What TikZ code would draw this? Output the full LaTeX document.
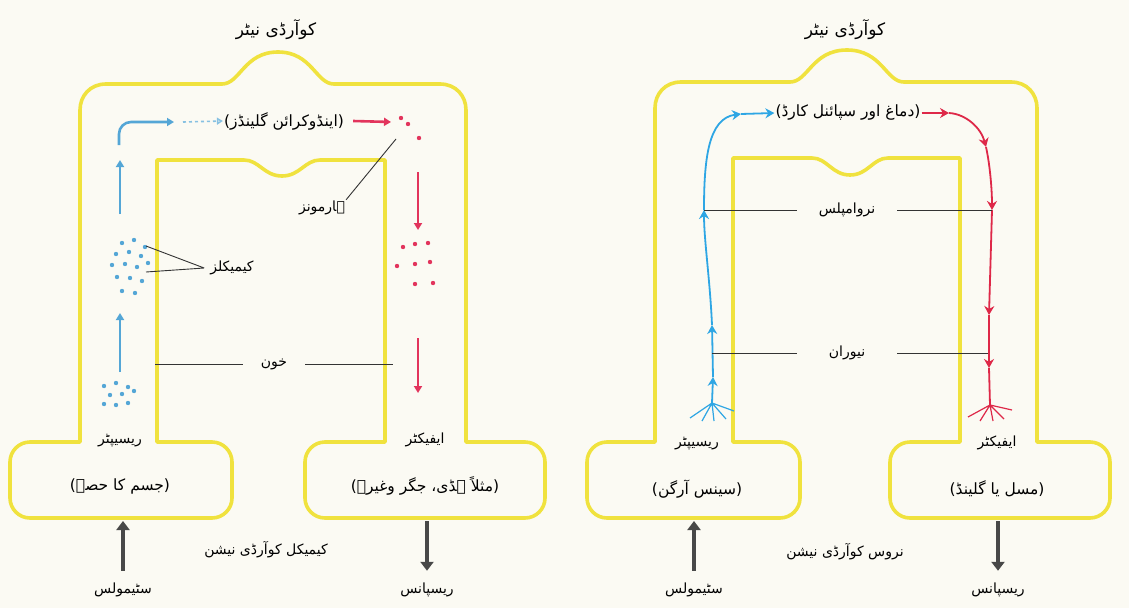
\documentclass[tikz,border=0pt]{standalone}
\usepackage{fontspec}
\usepackage{tikz}
\usetikzlibrary{arrows.meta,positioning,calc}
\newfontfamily\urdu[Script=Arabic]{DejaVu Sans}
\TeXXeTstate=1
\newcommand{\ur}[1]{{\urdu\beginR #1\endR}}
\newcommand{\urp}[1]{{\urdu)\beginR #1\endR(}}
\definecolor{paper}{RGB}{251,250,243}
\definecolor{frameyel}{RGB}{240,226,62}
\definecolor{chemblue}{RGB}{84,166,214}
\definecolor{nerveblue}{RGB}{46,166,228}
\definecolor{hormred}{RGB}{226,52,92}
\definecolor{nervered}{RGB}{222,40,72}
\definecolor{stimgray}{RGB}{72,72,72}

\begin{document}
\begin{tikzpicture}[
  x=1pt, y=-1pt,
  outline/.style={draw=frameyel, line width=3.6pt, line join=round},
  flowB/.style={chemblue, line width=2.6pt, -{Triangle[length=7pt,width=8pt]}},
  flowR/.style={hormred, line width=2.6pt, -{Triangle[length=7pt,width=8pt]}},
  nerveB/.style={nerveblue, line width=1.8pt, -{Stealth[length=9pt,width=10pt]}},
  nerveR/.style={nervered, line width=1.8pt, -{Stealth[length=9pt,width=10pt]}},
  bigarrow/.style={stimgray, line width=4.5pt, -{Triangle[length=9pt,width=13pt]}},
  leader/.style={line width=0.9pt, black!80},
  lbl/.style={font=\fontsize{14}{16}\selectfont, inner sep=1pt},
  head/.style={font=\fontsize{17}{19}\selectfont, inner sep=1pt},
  group/.style={font=\fontsize{15.5}{18}\selectfont, inner sep=1pt},
  gap/.style={lbl, inner xsep=12pt},
  foot/.style={lbl, inner ysep=12pt}]

\fill[paper] (0,0) rectangle (1129,608);
\useasboundingbox (0,0) rectangle (1129,608);

% ---- left: chemical coordination -----------------------------------------
\draw[outline] (80,442) -- (80,110) .. controls (80,96) and (90,84) .. (106,84)
  -- (222,84) .. controls (240,84) and (244,52) .. (278,52)
              .. controls (312,52) and (316,84) .. (334,84)
  -- (440,84) .. controls (456,84) and (466,96) .. (466,110)
  -- (466,442)
  -- (525,442) .. controls (536,442) and (545,451) .. (545,462)
  -- (545,498) .. controls (545,509) and (536,518) .. (525,518)
  -- (325,518) .. controls (314,518) and (305,509) .. (305,498)
  -- (305,462) .. controls (305,451) and (314,442) .. (325,442)
  -- (385,442) -- (385,160)
  -- (320,160) .. controls (305,160) and (300,176) .. (282,176)
              .. controls (264,176) and (259,160) .. (244,160)
  -- (157,160) -- (157,442)
  -- (212,442) .. controls (223,442) and (232,451) .. (232,462)
  -- (232,498) .. controls (232,509) and (223,518) .. (212,518)
  -- (30,518) .. controls (19,518) and (10,509) .. (10,498)
  -- (10,462) .. controls (10,451) and (19,442) .. (30,442) -- cycle;

\node[head]  (titleL) at (276,30) {\ur{کوآرڈی نیٹر}};
\node[group] (endo)   at (284,121) {\urp{اینڈوکرائن گلینڈز}};

% blue: chemicals carried up to the glands
\coordinate (a1s) at (120,372); \coordinate (a1e) at (120,313);
\coordinate (a2s) at (120,214); \coordinate (a2e) at (120,160);
\coordinate (a3s) at (119,145); \coordinate (a3e) at (174,122);
\draw[flowB] (a1s) -- (a1e);
\draw[flowB] (a2s) -- (a2e);
\draw[flowB, rounded corners=12pt] (a3s) |- (a3e);
\draw[chemblue!70, line width=1.6pt, dashed, -{Triangle[open,length=6pt,width=7pt]}]
  (183,122) -- (endo.west);
\foreach \p in {(122,243),(134,240),(145,247),(116,254),(129,252),(141,256),
                (112,265),(125,264),(137,267),(148,263),(117,277),(130,278),
                (142,281),(122,291),(135,293)}
  \fill[chemblue] \p circle (2.2pt);
\foreach \p in {(104,386),(116,383),(128,387),(110,395),(122,394),(134,391),
                (104,404),(116,405),(128,403)}
  \fill[chemblue] \p circle (2.2pt);

% red: hormones carried down to the effector
\coordinate (h1) at (391,122);
\coordinate (h2s) at (418,172); \coordinate (h2e) at (418,230);
\coordinate (h3s) at (418,338); \coordinate (h3e) at (418,393);
\draw[flowR] (endo.east) ++(8,0) -- (h1);
\draw[flowR] (h2s) -- (h2e);
\draw[flowR] (h3s) -- (h3e);
\foreach \p in {(401,118),(408,124),(419,138),
                (403,247),(415,244),(428,243),(397,266),(415,264),(430,262),
                (415,284),(433,283)}
  \fill[hormred] \p circle (2.2pt);

% labels with leader lines
\coordinate (hormA) at (396,139);
\node[lbl] (horm) at (322,208) {\ur{ہارمونز}};
\draw[leader] (horm.north east) -- (hormA);
\coordinate (chemA) at (146,246); \coordinate (chemB) at (146,272);
\node[lbl, inner xsep=6pt] (chem) at (232,268) {\ur{کیمیکلز}};
\draw[leader] (chem.west) -- (chemA) (chem.west) -- (chemB);
\coordinate (bloodL) at (155,364); \coordinate (bloodR) at (393,364);
\node[gap, inner xsep=18pt] (blood) at (274,364) {\ur{خون}};
\draw[leader] (blood.west) -- (bloodL) (blood.east) -- (bloodR);

\node[lbl]   (recL)    at (120,440) {\ur{ریسیپٹر}};
\node[group] (recLsub) at (120,486) {\urp{جسم کا حصہ}};
\node[lbl]   (effL)    at (425,440) {\ur{ایفیکٹر}};
\node[group] (effLsub) at (425,486) {\urp{مثلاً ہڈی، جگر وغیرہ}};

\coordinate (boxLin)  at (123,521);
\coordinate (boxLout) at (427,521);
\node[foot] (stimL) at (123,590) {\ur{سٹیمولس}};
\node[foot] (respL) at (427,590) {\ur{ریسپانس}};
\draw[bigarrow] (stimL.north) -- (boxLin);
\draw[bigarrow] (boxLout) -- (respL.north);
\node[lbl] (chemco) at (266,550) {\ur{کیمیکل کوآرڈی نیشن}};

% ---- right: nervous coordination ------------------------------------------
\draw[outline] (655,442) -- (655,108) .. controls (655,94) and (665,82) .. (681,82)
  -- (790,82) .. controls (808,82) and (812,50) .. (847,50)
              .. controls (882,50) and (886,82) .. (904,82)
  -- (1011,82) .. controls (1027,82) and (1037,94) .. (1037,108)
  -- (1037,442)
  -- (1090,442) .. controls (1101,442) and (1110,451) .. (1110,462)
  -- (1110,498) .. controls (1110,509) and (1101,518) .. (1090,518)
  -- (910,518) .. controls (899,518) and (890,509) .. (890,498)
  -- (890,462) .. controls (890,451) and (899,442) .. (910,442)
  -- (960,442) -- (960,158)
  -- (888,158) .. controls (873,158) and (868,175) .. (850,175)
              .. controls (832,175) and (827,158) .. (812,158)
  -- (733,158) -- (733,442)
  -- (780,442) .. controls (791,442) and (800,451) .. (800,462)
  -- (800,498) .. controls (800,509) and (791,518) .. (780,518)
  -- (607,518) .. controls (596,518) and (587,509) .. (587,498)
  -- (587,462) .. controls (587,451) and (596,442) .. (607,442) -- cycle;

\node[head]  (titleR) at (845,30) {\ur{کوآرڈی نیٹر}};
\node[group] (cns)    at (848,113) {\urp{دماغ اور سپائنل کارڈ}};

% sensory neuron, going up
\coordinate (bD) at (712,403);
\coordinate (b1) at (713,377);
\coordinate (b2) at (712,325);
\coordinate (b3) at (704,210);
\coordinate (b4) at (741,114);
\draw[nerveB] (bD) -- (b1);
\draw[nerveB] (b1) -- (b2);
\draw[nerveB] (b2) .. controls (710,280) and (704,240) .. (b3);
\draw[nerveB] (b3) .. controls (704,160) and (708,118) .. (b4);
\draw[nerveB] (b4) -- (cns.west);
\draw[nerveblue, line width=1.2pt]
  (bD) -- (690,418) (bD) -- (702,421) (bD) -- (714,421) (bD) -- (726,419) (bD) -- (734,411);

% motor neuron, going down
\coordinate (r1) at (949,113);
\coordinate (r2) at (986,147);
\coordinate (r3) at (992,210);
\coordinate (r4) at (989,315);
\coordinate (r5) at (989,368);
\coordinate (rD) at (990,405);
\draw[nerveR] (cns.east) -- (r1);
\draw[nerveR] (r1) .. controls (966,114) and (981,128) .. (r2);
\draw[nerveR] (r2) .. controls (990,165) and (992,190) .. (r3);
\draw[nerveR] (r3) -- (r4);
\draw[nerveR] (r4) -- (r5);
\draw[nervered, line width=1.8pt] (r5) -- (rD);
\draw[nervered, line width=1.2pt]
  (rD) -- (968,417) (rD) -- (980,421) (rD) -- (993,421) (rD) -- (1004,419) (rD) -- (1012,410);

% labels with leader lines
\node[gap, inner xsep=22pt] (imp) at (847,210) {\ur{نروامپلس}};
\draw[leader] (imp.west) -- (b3) (imp.east) -- (r3);
\coordinate (bN) at (712,353); \coordinate (rN) at (988,353);
\node[gap, inner xsep=32pt] (neu) at (847,353) {\ur{نیوران}};
\draw[leader] (neu.west) -- (bN) (neu.east) -- (rN);

\node[lbl]   (recR)    at (697,443) {\ur{ریسیپٹر}};
\node[group] (recRsub) at (697,489) {\urp{سینس آرگن}};
\node[lbl]   (effR)    at (997,443) {\ur{ایفیکٹر}};
\node[group] (effRsub) at (997,489) {\urp{مسل یا گلینڈ}};

\coordinate (boxRin)  at (694,521);
\coordinate (boxRout) at (998,521);
\node[foot] (stimR) at (694,590) {\ur{سٹیمولس}};
\node[foot] (respR) at (998,590) {\ur{ریسپانس}};
\draw[bigarrow] (stimR.north) -- (boxRin);
\draw[bigarrow] (boxRout) -- (respR.north);
\node[lbl] (nervco) at (845,552) {\ur{نروس کوآرڈی نیشن}};

\end{tikzpicture}
\end{document}
